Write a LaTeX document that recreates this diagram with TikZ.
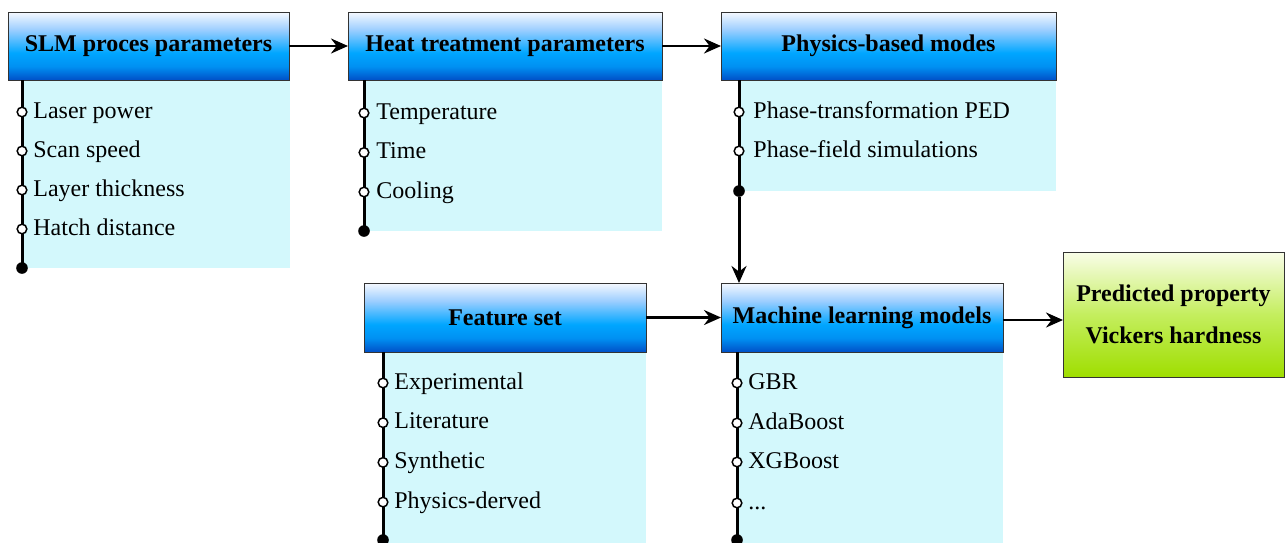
\documentclass[tikz,border=0pt]{standalone}
\usepackage{fontspec}
\setmainfont{Liberation Serif}
\usetikzlibrary{arrows.meta}

\definecolor{hbA}{HTML}{0050C8}
\definecolor{hbB}{HTML}{0090F2}
\definecolor{hbC}{HTML}{00A6FF}
\definecolor{hbD}{HTML}{9CCEFF}
\definecolor{hbE}{HTML}{F6F9FF}
\definecolor{gbA}{HTML}{9FDE00}
\definecolor{gbB}{HTML}{C4EE5E}
\definecolor{gbC}{HTML}{F9FDE8}
\definecolor{listbg}{HTML}{D3F8FC}
\definecolor{frame}{HTML}{333333}

% header bar: pale top, bright blue middle, deep blue bottom
\pgfdeclareverticalshading{hdrshade}{100bp}{%
  color(0bp)=(hbA); color(25bp)=(hbA); color(35bp)=(hbB); color(45bp)=(hbC);
  color(62bp)=(hbD); color(75bp)=(hbE); color(100bp)=(hbE)}
% result box: green bottom fading to near white at the top
\pgfdeclareverticalshading{resshade}{100bp}{%
  color(0bp)=(gbA); color(25bp)=(gbA); color(50bp)=(gbB);
  color(75bp)=(gbC); color(100bp)=(gbC)}

\tikzset{
  hdr/.style={draw=frame, line width=0.5pt, shading=hdrshade, inner sep=0pt,
    outer sep=0pt, font=\fontsize{12}{14}\selectfont\bfseries},
  resbox/.style={draw=frame, line width=0.5pt, shading=resshade, inner sep=0pt,
    outer sep=0pt, align=center, font=\fontsize{12}{21}\selectfont\bfseries},
  listbody/.style={fill=listbg, draw=none, inner sep=0pt, outer sep=0pt},
  spine/.style={line width=1.5pt, black},
  bullet/.style={circle, draw=black, fill=white, line width=0.75pt,
    minimum size=4.8pt, inner sep=0pt},
  enddot/.style={circle, fill=black, minimum size=5.8pt, inner sep=0pt},
  item/.style={anchor=base west, inner sep=0pt, font=\fontsize{12}{14}\selectfont},
  flow/.style={line width=1.2pt, -{Stealth[length=8.5pt, width=7.5pt, inset=2.8pt]}}
}

\begin{document}
\begin{tikzpicture}[x=0.5pt, y=-0.5pt]
\useasboundingbox (0,0) rectangle (1285,542);

% ---- list backgrounds ----
\node[listbody, minimum width=134pt, minimum height=94pt]   (slmbody)  at (155.5,174)   {};
\node[listbody, minimum width=149pt, minimum height=75.5pt] (heatbody) at (513,155.5)   {};
\node[listbody, minimum width=158.5pt, minimum height=55.5pt] (physbody) at (897.5,135.5) {};
\node[listbody, minimum width=131.5pt, minimum height=97pt] (featbody) at (514.5,449)   {};
\node[listbody, minimum width=133pt, minimum height=97pt]   (mlbody)   at (870,449)     {};

% ---- header bars ----
\node[hdr, minimum width=140.5pt, minimum height=34pt]   (slm)  at (148.5,46)  {SLM proces parameters};
\node[hdr, minimum width=157pt, minimum height=34pt]     (heat) at (505,46)    {Heat treatment parameters};
\node[hdr, minimum width=167.5pt, minimum height=34pt]   (phys) at (888.5,46)  {Physics-based modes};
\node[hdr, minimum width=141pt, minimum height=34.5pt]   (feat) at (505,317.5) {Feature set};
\node[hdr, minimum width=141pt, minimum height=34.5pt]   (ml)   at (862,317.5) {Machine learning models};
\node[resbox, minimum width=110.5pt, minimum height=62.5pt] (pred) at (1173.5,314.5)
  {Predicted property\\Vickers hardness};

% ---- spines with bullets ----
% SLM process parameters
\coordinate (slmtop) at (22,80);
\coordinate (slmend) at (22,268);
\draw[spine] (slmtop) -- (slmend);
\node[enddot] (slmdot) at (slmend) {};
\foreach \t [count=\i] in {Laser power, Scan speed, Layer thickness, Hatch distance} {
  \node[bullet] (slmb\i) at (22,{112+39*(\i-1)}) {};
  \node[item] (slmt\i) at (33,{118+39*(\i-1)}) {\t};
}

% heat treatment parameters
\coordinate (heattop) at (364,80);
\coordinate (heatend) at (364,231);
\draw[spine] (heattop) -- (heatend);
\node[enddot] (heatdot) at (heatend) {};
\foreach \t [count=\i] in {Temperature, Time, Cooling} {
  \node[bullet] (heatb\i) at (364,{113+39.5*(\i-1)}) {};
  \node[item] (heatt\i) at (376,{119+39.5*(\i-1)}) {\t};
}

% physics-based models
\coordinate (phystop) at (739,80);
\coordinate (physend) at (739,191);
\draw[spine] (phystop) -- (physend);
\node[enddot] (physdot) at (physend) {};
\foreach \t [count=\i] in {Phase-transformation PED, Phase-field simulations} {
  \node[bullet] (physb\i) at (739,{112+39*(\i-1)}) {};
  \node[item] (physt\i) at (753,{118+39*(\i-1)}) {\t};
}

% feature set
\coordinate (feattop) at (383,352);
\coordinate (featend) at (383,540);
\draw[spine] (feattop) -- (featend);
\node[enddot] (featdot) at (featend) {};
\foreach \t [count=\i] in {Experimental, Literature, Synthetic, Physics-derved} {
  \node[bullet] (featb\i) at (383,{383+39.7*(\i-1)}) {};
  \node[item] (featt\i) at (394,{389+39.7*(\i-1)}) {\t};
}

% machine learning models
\coordinate (mltop) at (737,352);
\coordinate (mlend) at (737,540);
\draw[spine] (mltop) -- (mlend);
\node[enddot] (mldot) at (mlend) {};
\node[bullet] (mlb1) at (737,383) {};
\node[item]   (mlt1) at (748,389) {GBR};
\node[bullet] (mlb2) at (737,423) {};
\node[item]   (mlt2) at (748,429) {AdaBoost};
\node[bullet] (mlb3) at (737,462) {};
\node[item]   (mlt3) at (748,468) {XGBoost};
\node[bullet] (mlb4) at (737,503) {};
\node[item]   (mlt4) at (748,509) {...};

% ---- flow arrows ----
\draw[flow] (slm) -- (heat);
\draw[flow] (heat) -- (phys);
\draw[flow, line width=1.5pt] (physdot) -- (physdot |- ml.north);
\draw[flow] (feat) -- (ml);
\draw[flow] (ml.east |- 0,320) -- (pred.west |- 0,320);
\end{tikzpicture}
\end{document}
